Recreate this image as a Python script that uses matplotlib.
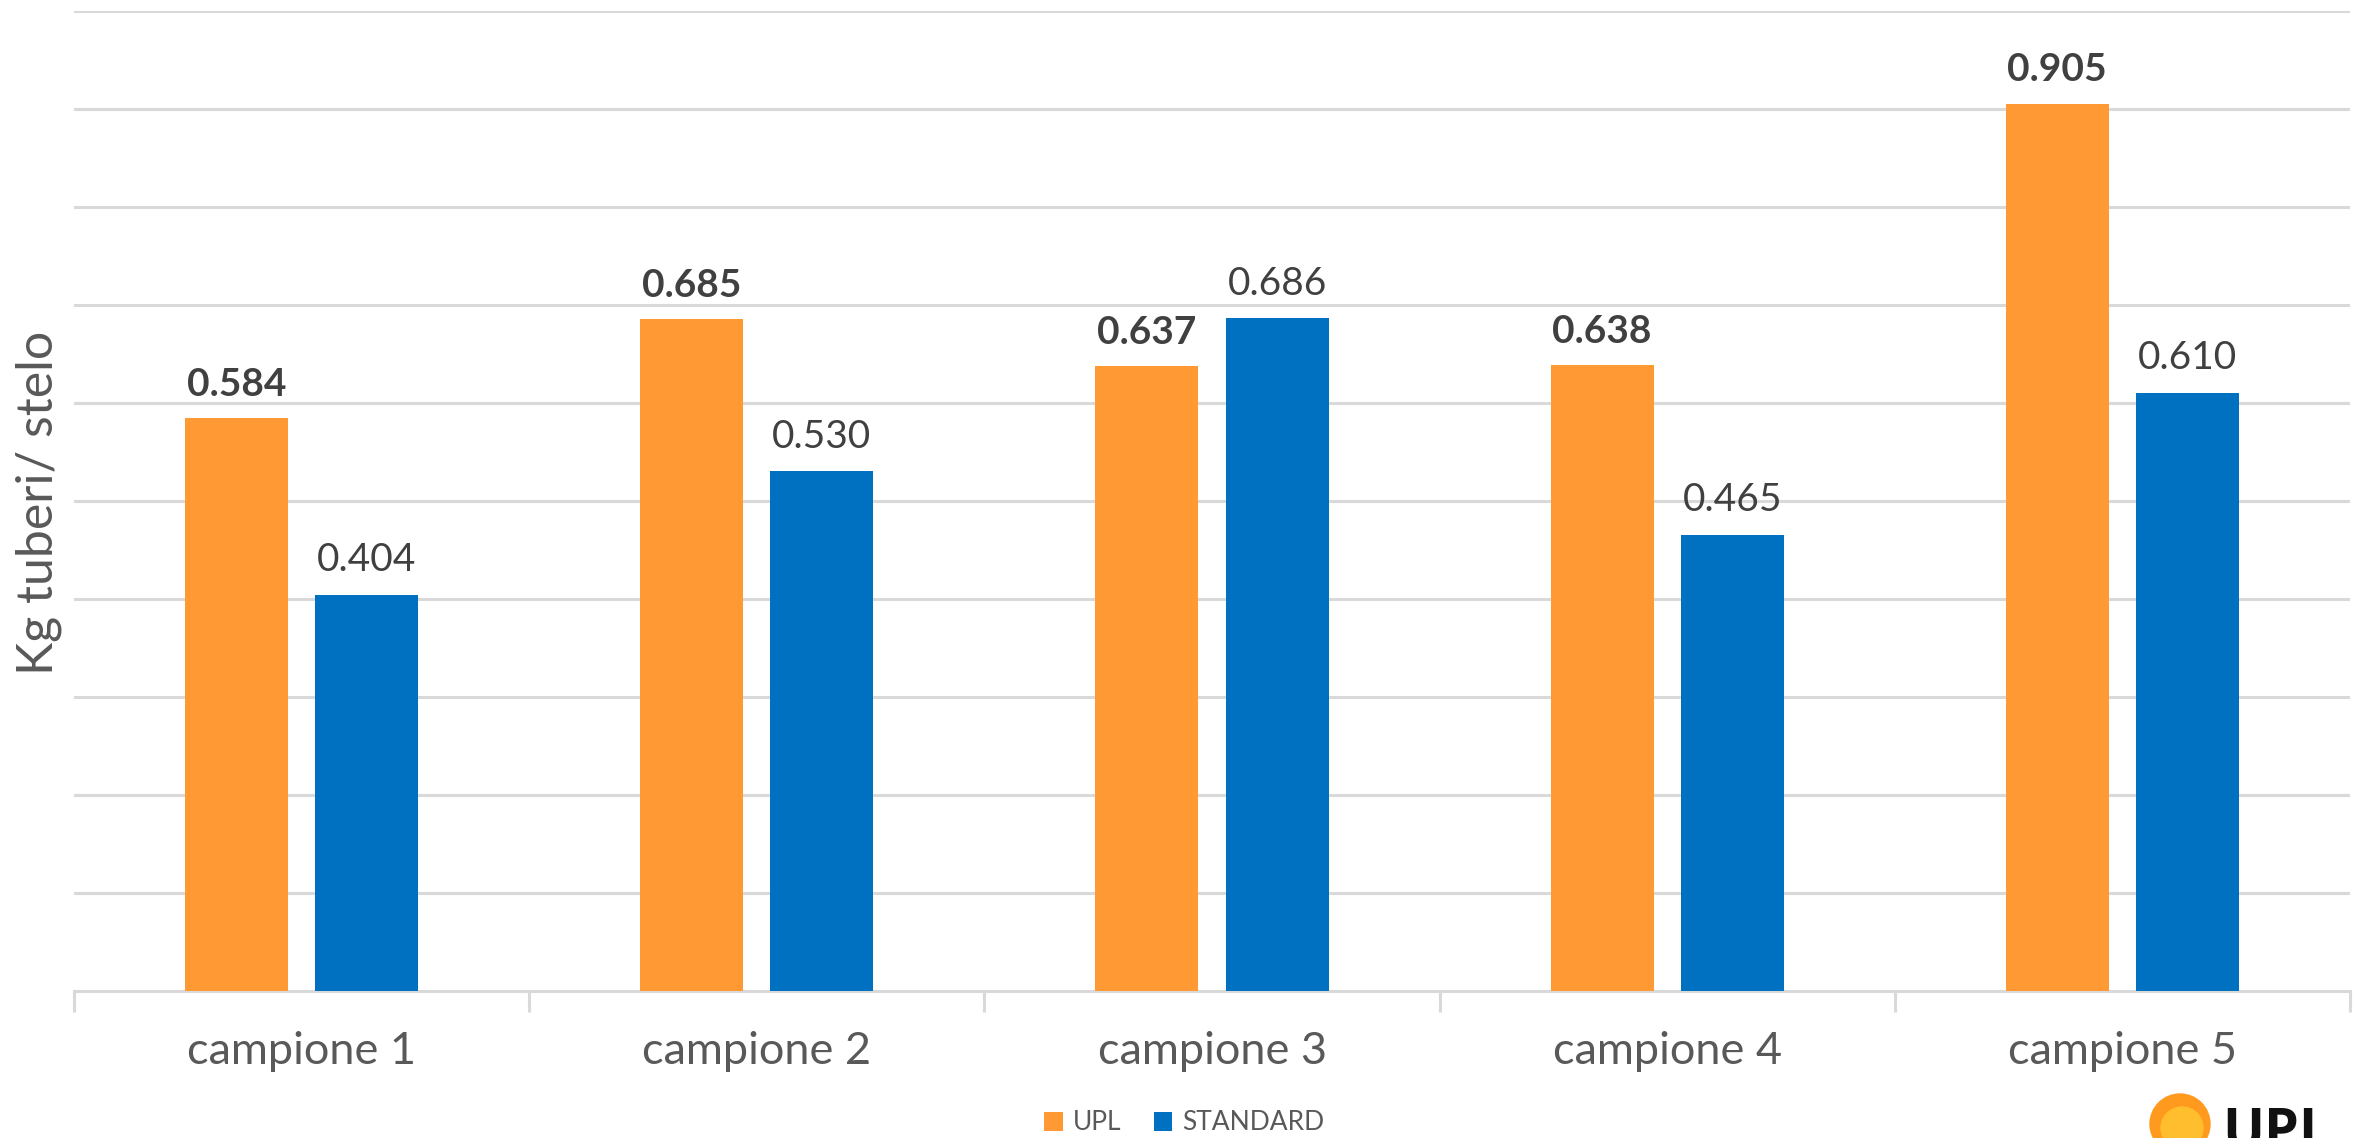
import matplotlib
matplotlib.use("Agg")
import matplotlib.pyplot as plt
from matplotlib.patches import Circle
import numpy as np

categories = ["campione 1", "campione 2", "campione 3", "campione 4", "campione 5"]
upl = [0.584, 0.685, 0.637, 0.638, 0.905]
standard = [0.404, 0.530, 0.686, 0.465, 0.610]
series_names = ["UPL", "STANDARD"]
ylabel = "Kg tuberi/ stelo"

ORANGE = "#FF9933"
BLUE = "#0070C0"
GRID = "#D9D9D9"
TXT = "#595959"
VAL = "#404040"

plt.rcParams['font.family'] = ['Lato', 'DejaVu Sans']

fig = plt.figure(figsize=(23.69, 11.38), dpi=100)
ax = fig.add_axes([74/2369, 1-991/1138, (2350-74)/2369, (991-10.5)/1138])

x = np.arange(len(categories))
w = 0.226
off = 0.143
b1 = ax.bar(x - off, upl, w, color=ORANGE, label=series_names[0], zorder=3)
b2 = ax.bar(x + off, standard, w, color=BLUE, label=series_names[1], zorder=3)

for rect, v in zip(b1, upl):
    ax.annotate(f"{v:.3f}", (rect.get_x() + rect.get_width()/2, v),
                xytext=(0, 12), textcoords="offset points", ha="center", va="bottom",
                fontsize=28, fontweight="bold", color=VAL)
for rect, v in zip(b2, standard):
    ax.annotate(f"{v:.3f}", (rect.get_x() + rect.get_width()/2, v),
                xytext=(0, 12), textcoords="offset points", ha="center", va="bottom",
                fontsize=28, color=VAL)

ax.set_xlim(-0.5, len(categories) - 0.5)
ax.set_ylim(0, 1.0)
ax.set_yticks(np.arange(0.1, 1.01, 0.1))
ax.tick_params(axis="y", length=0, labelleft=False)
ax.yaxis.grid(True, color=GRID, linewidth=2.2, zorder=0)
ax.set_axisbelow(True)

ax.set_xticks(x)
ax.set_xticklabels(categories, fontsize=32.5, color=TXT)
ax.tick_params(axis="x", length=0, pad=29)
ax.set_xticks(np.arange(-0.5, len(categories), 1.0), minor=True)
ax.tick_params(axis="x", which="minor", length=15, width=2.2, color=GRID)

for s in ["top", "right", "left"]:
    ax.spines[s].set_visible(False)
ax.spines["bottom"].set_color(GRID)
ax.spines["bottom"].set_linewidth(2.2)

fig.text(39/2369, 1-503/1138, ylabel, rotation=90, ha="center", va="center",
         fontsize=36, color=TXT)

leg = fig.legend(handles=[b1, b2], labels=series_names, loc="center",
                 bbox_to_anchor=(0.5, 1-1123/1138), ncol=2, frameon=False,
                 fontsize=19, handlelength=0.7, handleheight=0.7, handletextpad=0.4,
                 columnspacing=1.2, labelcolor=TXT)

# UPL logo (partially cropped at bottom-right, as in the reference)
circ = Circle((21.80, (1138-1124)/100), 0.30, transform=fig.dpi_scale_trans,
              color="#FF9A1E", zorder=5)
fig.patches.append(circ)
circ2 = Circle((21.82, (1138-1128)/100), 0.21, transform=fig.dpi_scale_trans,
               color="#FFBE2E", zorder=6)
fig.patches.append(circ2)
fig.text(2222/2369, 1-1106/1138, "UPL", ha="left", va="top", fontsize=40,
         fontweight="bold", color="#111111", family=["Open Sans", "DejaVu Sans"])

fig.savefig("out.png", dpi=100, facecolor="white")
